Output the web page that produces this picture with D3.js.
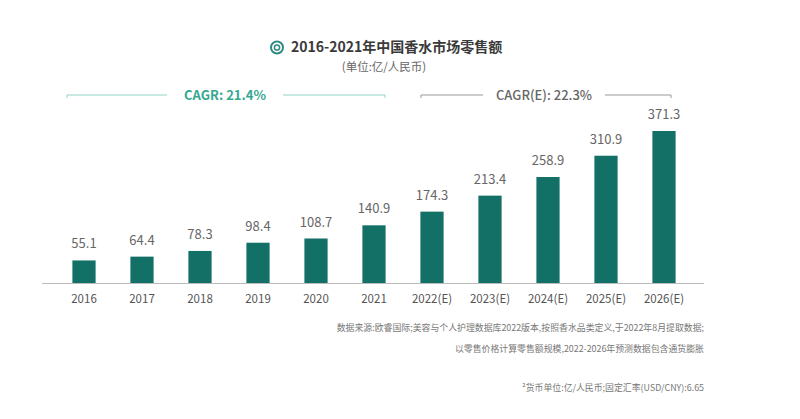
<!DOCTYPE html>
<html>
<head>
<meta charset="utf-8">
<script src="https://cdn.jsdelivr.net/npm/d3@7"></script>
<style>
  body { margin: 0; background: #fff; }
  svg { display: block; font-family: "Noto Sans CJK SC", "Noto Sans", sans-serif; }
</style>
</head>
<body>
<div id="chart"></div>
<script>
// data
const years = ["2016", "2017", "2018", "2019", "2020", "2021",
  "2022(E)", "2023(E)", "2024(E)", "2025(E)", "2026(E)"];
const sales = [55.1, 64.4, 78.3, 98.4, 108.7, 140.9, 174.3, 213.4, 258.9, 310.9, 371.3];
const cagrLabels = ["CAGR:  21.4%", "CAGR(E):  22.3%"];
const notes = [
  "数据来源:欧睿国际;美容与个人护理数据库2022版本,按照香水品类定义,于2022年8月提取数据;",
  "以零售价格计算零售额规模,2022-2026年预测数据包含通货膨胀",
  "²货币单位:亿/人民币;固定汇率(USD/CNY):6.65"
];

const width = 800, height = 419;
const baseY = 283;
const barColor = "#137067";

const svg = d3.select("#chart").append("svg")
  .attr("width", width)
  .attr("height", height);

const x = d3.scaleBand()
  .domain(years)
  .range([55, 693])
  .paddingInner(0.6)
  .paddingOuter(0.3);

const y = d3.scaleLinear()
  .domain([0, 371.3])
  .range([baseY, 131]);

// title + icon
const title = svg.append("g");
title.append("circle").attr("cx", 277).attr("cy", 47.5).attr("r", 6)
  .attr("fill", "none").attr("stroke", "#2f8a80").attr("stroke-width", 2);
title.append("circle").attr("cx", 277).attr("cy", 47.5).attr("r", 2.6)
  .attr("fill", "none").attr("stroke", "#2f8a80").attr("stroke-width", 1.5);
title.append("text")
  .attr("x", 291).attr("y", 52)
  .attr("font-size", 14).attr("font-weight", "bold").attr("fill", "#3a3a3a")
  .text("2016-2021年中国香水市场零售额");
title.append("text")
  .attr("x", 384).attr("y", 71).attr("text-anchor", "middle")
  .attr("font-size", 11.5).attr("fill", "#666")
  .text("(单位:亿/人民币)");

// CAGR brackets
function bracket(x1, x2, gapL, gapR, label, color, lineColor, weight) {
  const g = svg.append("g");
  const yy = 95;
  g.append("path")
    .attr("d", `M${x1},${yy + 3}V${yy}H${gapL}M${gapR},${yy}H${x2}V${yy + 3}`)
    .attr("fill", "none").attr("stroke", lineColor).attr("stroke-width", 1);
  g.append("text")
    .attr("x", (gapL + gapR) / 2).attr("y", yy + 5)
    .attr("text-anchor", "middle")
    .attr("font-size", 13).attr("font-weight", weight).attr("fill", color)
    .text(label);
}
bracket(67, 385, 167, 283, cagrLabels[0], "#35a88f", "#93d2c4", "bold");
bracket(421, 671, 483, 605, cagrLabels[1], "#666", "#999", "500");

// baseline
svg.append("line")
  .attr("x1", 42).attr("x2", 704)
  .attr("y1", baseY + 0.5).attr("y2", baseY + 0.5)
  .attr("stroke", "#bbb").attr("stroke-width", 1);

// bars
svg.selectAll(".bar")
  .data(sales)
  .enter()
  .append("rect")
  .attr("class", "bar")
  .attr("x", (d, i) => x(years[i]))
  .attr("y", d => y(d))
  .attr("width", x.bandwidth())
  .attr("height", d => baseY - y(d))
  .attr("fill", barColor);

// value labels
svg.selectAll(".val")
  .data(sales)
  .enter()
  .append("text")
  .attr("class", "val")
  .attr("x", (d, i) => x(years[i]) + x.bandwidth() / 2)
  .attr("y", d => y(d) - 12)
  .attr("text-anchor", "middle")
  .attr("font-size", 13)
  .attr("fill", "#666")
  .text(d => d.toFixed(1));

// year axis
const xAxis = svg.append("g")
  .attr("transform", `translate(0,${baseY})`)
  .call(d3.axisBottom(x).tickSize(0).tickPadding(12));
xAxis.select(".domain").remove();
xAxis.selectAll("text")
  .attr("font-size", 11.5)
  .attr("fill", "#555")
  .attr("font-family", "\"Noto Sans CJK SC\", sans-serif");

// footnotes
svg.selectAll(".note")
  .data(notes)
  .enter()
  .append("text")
  .attr("class", "note")
  .attr("x", 704)
  .attr("y", (d, i) => [331, 352, 391][i])
  .attr("text-anchor", "end")
  .attr("font-size", 8.9)
  .attr("fill", "#777")
  .text(d => d);
</script>
</body>
</html>
